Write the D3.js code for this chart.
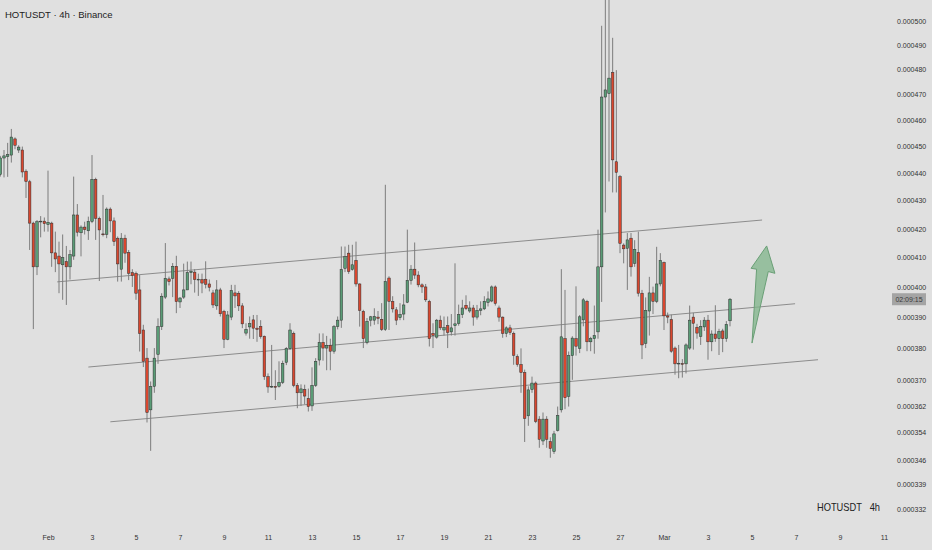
<!DOCTYPE html>
<html>
<head>
<meta charset="utf-8">
<script src="https://cdn.jsdelivr.net/npm/d3@7/dist/d3.min.js"></script>
<style>
  body{margin:0;background:#e0e0e0;}
  text{font-family:"Liberation Sans",Arial,sans-serif;}
</style>
</head>
<body>
<svg id="chart" width="932" height="550"></svg>
<script>
// HOTUSDT 4h candles, prices in units of 0.000001 USDT
var firstCandle = Date.UTC(2025,0,29,20), step = 4*3600*1000;

var open = [439.6,445.7,446.2,446.8,452.9,448.7,448.7,440.8,436.9,422.0,406.8,422.5,422.7,421.5,422.0,411.6,410.5,407.5,408.6,406.8,
  410.5,424.9,418.6,420.6,419.3,422.6,437.8,423.7,418.2,418.0,427.0,422.8,416.7,406.0,416.7,411.7,404.8,404.6,399.0,385.8,
  376.8,360.8,368.0,378.0,386.9,396.6,402.7,402.9,407.0,395.0,396.6,399.0,404.8,405.0,402.4,402.5,402.6,401.0,398.0,393.7,
  399.0,391.9,382.8,390.0,398.0,397.9,393.7,384.8,386.8,389.1,386.4,387.0,383.8,371.0,367.8,368.0,368.0,369.2,375.5,379.8,
  384.7,368.3,366.0,367.0,364.3,362.0,368.3,376.2,381.8,380.0,380.9,379.0,386.9,389.0,406.3,411.5,405.9,409.0,401.0,391.9,
  381.8,389.0,389.0,390.0,389.3,386.0,403.0,395.2,392.4,389.8,391.0,394.9,402.2,406.0,404.0,400.7,400.0,395.2,384.7,383.5,
  389.0,385.8,387.2,385.2,387.2,387.9,390.8,393.9,392.0,393.0,390.0,392.2,392.7,394.8,395.3,400.0,393.0,390.0,384.7,386.5,
  384.7,377.3,374.8,372.3,359.0,367.0,369.0,358.0,351.5,358.0,351.3,348.4,354.6,360.8,383.0,364.9,377.6,383.0,379.9,389.1,
  395.2,382.0,383.0,385.2,406.8,469.1,470.5,478.9,444.3,438.8,414.3,413.2,416.7,408.0,411.7,397.9,381.5,392.0,398.0,395.2,
  401.0,408.3,390.4,389.2,380.0,375.0,375.1,375.0,380.0,390.0,386.7,383.7,386.8,389.0,382.0,384.5,383.0,385.5,383.0,388.8];
var high = [446.5,448.7,451.4,456.7,453.5,450.5,450.0,441.5,437.6,422.5,423.1,424.5,424.0,441.0,422.5,419.0,415.5,418.0,414.0,412.6,
  438.8,428.8,421.2,422.5,424.3,446.8,438.4,424.3,432.1,427.6,427.6,424.0,417.3,418.5,417.9,412.6,406.0,405.2,404.0,387.5,
  380.0,369.5,380.0,389.6,397.9,415.0,403.5,408.1,410.6,396.6,407.9,408.6,408.6,406.0,404.5,404.5,408.7,402.5,399.0,402.3,
  399.7,392.4,392.0,400.7,400.7,398.6,394.6,388.0,390.2,390.7,390.7,389.0,384.0,372.0,381.0,373.0,375.8,376.0,380.3,388.0,
  385.3,369.0,368.6,368.5,367.3,373.9,376.8,384.7,384.7,383.9,383.0,387.4,390.2,413.8,413.8,414.4,414.4,415.5,401.2,392.4,
  389.7,390.4,392.9,392.0,394.6,435.8,403.6,396.9,393.3,394.6,397.6,419.7,407.4,415.2,405.3,401.2,401.0,395.7,388.0,389.4,
  390.5,390.2,390.2,391.0,408.0,394.1,395.7,397.2,395.2,394.0,394.0,395.2,396.9,398.5,400.5,400.5,393.8,390.2,387.0,387.5,
  385.3,378.0,379.9,373.2,368.0,371.0,369.5,358.9,360.0,358.9,352.6,354.5,361.8,406.0,399.0,378.9,383.8,400.2,390.7,396.3,
  395.7,383.6,393.8,419.7,498.0,512.0,515.0,493.0,479.8,439.4,414.9,418.5,418.5,416.0,419.0,399.0,396.5,403.4,400.1,413.7,
  411.5,408.6,391.5,390.8,380.5,381.0,376.5,381.5,393.8,391.4,387.8,389.0,390.0,390.7,385.7,393.9,386.2,386.2,388.7,396.3];
var low = [438.8,438.5,438.7,444.0,449.0,447.6,438.5,431.0,412.6,386.1,404.0,417.0,419.0,419.0,406.8,405.0,397.9,395.7,394.0,402.5,
  409.2,417.3,410.4,418.0,416.1,422.0,416.1,402.0,417.3,416.7,418.8,414.0,401.8,401.8,408.2,402.3,400.0,395.7,378.9,374.0,
  357.0,348.6,366.0,375.0,385.8,396.0,400.5,396.6,391.3,393.0,396.0,399.0,400.9,398.1,397.0,397.9,399.5,398.5,393.0,392.4,
  390.2,380.0,382.5,389.0,393.0,392.0,386.4,384.0,383.0,382.9,382.0,383.0,370.0,366.0,367.5,363.8,367.6,368.7,374.6,379.4,
  367.7,361.3,362.0,362.5,360.3,360.5,367.8,374.5,376.0,373.0,373.0,378.2,386.0,386.5,405.0,404.4,405.5,400.1,386.9,380.0,
  381.2,387.0,387.5,387.7,385.5,385.5,385.8,391.5,387.4,389.0,389.0,394.6,400.8,402.7,399.9,398.0,395.0,380.5,380.0,383.0,
  385.8,384.0,380.0,384.0,384.0,387.2,389.7,392.3,391.4,387.2,389.2,390.6,392.3,393.5,394.9,393.8,388.5,383.3,383.5,384.2,
  374.7,374.1,366.0,351.2,356.0,366.0,356.8,349.5,350.3,349.5,346.6,347.7,354.3,360.0,361.0,361.8,370.0,377.6,378.4,387.0,
  379.0,379.0,378.2,383.0,395.0,425.8,437.0,433.0,433.0,411.5,408.0,399.0,403.5,406.8,396.8,376.5,380.0,384.0,391.0,394.6,
  400.2,385.8,388.0,378.5,371.6,370.5,370.7,372.0,379.4,379.5,383.0,381.0,385.5,376.3,379.0,382.0,377.8,378.7,382.0,387.0];
var close = [445.7,446.5,447.0,453.6,450.5,449.8,440.5,437.0,422.0,406.8,422.5,422.7,421.8,422.3,411.6,409.5,407.8,410.0,406.8,411.0,
  424.9,418.8,420.6,419.7,422.6,437.8,423.7,419.6,417.9,427.0,422.8,415.5,407.8,416.7,411.5,404.6,403.8,397.9,384.7,375.8,
  360.0,367.9,376.8,386.9,396.9,402.9,401.8,407.0,395.1,396.3,399.0,404.8,405.3,402.5,402.6,401.3,400.9,399.9,394.0,399.0,
  391.1,382.8,390.7,398.8,397.0,393.7,387.8,386.0,387.9,386.4,386.0,383.7,371.0,367.8,368.0,367.7,369.2,375.1,379.8,385.8,
  368.3,366.0,367.2,365.0,361.8,368.3,375.8,381.8,380.0,380.9,379.0,386.9,389.0,405.9,410.3,405.2,407.5,401.0,392.2,383.0,
  388.6,390.1,390.2,389.6,386.0,401.8,395.2,392.7,389.0,390.9,394.0,402.2,406.0,404.0,400.7,400.0,395.7,383.0,384.1,389.0,
  386.5,386.6,385.0,386.5,387.8,390.8,393.0,392.8,393.0,390.0,392.2,392.7,395.2,396.0,400.0,394.5,390.0,384.7,386.5,385.0,
  377.7,374.8,372.3,358.2,366.9,369.0,357.3,352.0,358.0,352.0,349.3,353.6,359.1,383.6,364.5,377.6,383.2,380.6,390.1,395.7,
  382.0,383.0,384.0,406.8,469.1,471.9,476.6,445.0,440.4,414.9,413.0,416.1,406.8,412.8,397.9,381.0,392.2,398.0,395.2,401.0,
  409.0,390.4,390.0,379.0,375.0,375.2,375.0,381.0,389.0,388.0,384.8,387.0,389.0,382.0,384.5,383.0,385.3,383.0,387.6,395.9];

var yTicks = [332,339,346,354,362,370,380,390,400,410,420,430,440,450,460,470,480,490,500];
var xTickDates = ["2025-02-01","2025-02-03","2025-02-05","2025-02-07","2025-02-09","2025-02-11","2025-02-13","2025-02-15",
  "2025-02-17","2025-02-19","2025-02-21","2025-02-23","2025-02-25","2025-02-27","2025-03-01","2025-03-03","2025-03-05",
  "2025-03-07","2025-03-09","2025-03-11"];
var xTickLabels = ["Feb","3","5","7","9","11","13","15","17","19","21","23","25","27","Mar","3","5","7","9","11"];

// channel lines drawn on the chart: [time, price] endpoints
var channelTop = [["2025-02-01T10:00Z",401.7],["2025-03-05T11:00Z",423.1]];
var channelMid = [["2025-02-02T20:00Z",374.0],["2025-03-06T23:00Z",394.4]];
var channelLow = [["2025-02-03T20:00Z",357.2],["2025-03-08T00:00Z",376.3]];
// up arrow outline: [time, price]
var arrowPts = [["2025-03-05T16:00Z",414.0],["2025-03-06T01:00Z",404.6],["2025-03-05T17:45Z",405.2],
  ["2025-03-05T00:00Z",381.6],["2025-03-05T05:00Z",406.0],["2025-03-04T23:00Z",406.3]];

var W = 932, H = 550;
var svg = d3.select("#chart");
svg.append("rect").attr("width",W).attr("height",H).attr("fill","#e0e0e0");

var x = d3.scaleUtc()
    .domain([new Date(Date.UTC(2025,1,1)), new Date(Date.UTC(2025,2,1))])
    .range([48,664]);
var y = d3.scaleLog().domain([332,500]).range([509,21]);

svg.append("clipPath").attr("id","plot")
  .append("rect").attr("x",0).attr("y",0).attr("width",888).attr("height",525);
var plot = svg.append("g").attr("clip-path","url(#plot)");

var tOf = function(i){ return new Date(firstCandle + i*step); };
var pt = function(p){ return [x(new Date(p[0])), y(p[1])]; };

// channel lines
[channelTop, channelMid, channelLow].forEach(function(seg){
  var a = pt(seg[0]), b = pt(seg[1]);
  plot.append("line")
    .attr("x1",a[0]).attr("y1",a[1]).attr("x2",b[0]).attr("y2",b[1])
    .attr("stroke","#8c8c8c").attr("stroke-width",1);
});

// candles
var idx = d3.range(open.length);
var cg = plot.selectAll("g.candle").data(idx).enter().append("g").attr("class","candle");
cg.append("line")
  .attr("x1",function(i){return x(tOf(i));})
  .attr("x2",function(i){return x(tOf(i));})
  .attr("y1",function(i){return y(high[i]);})
  .attr("y2",function(i){return y(low[i]);})
  .attr("stroke","#7c7c7c").attr("stroke-width",1);
cg.append("rect")
  .attr("x",function(i){return x(tOf(i))-1.25;})
  .attr("width",2.5)
  .attr("y",function(i){return y(Math.max(open[i],close[i]));})
  .attr("height",function(i){return Math.max(0.8, Math.abs(y(open[i])-y(close[i])));})
  .attr("fill",function(i){return close[i]>=open[i] ? "#5a9c76" : "#d9472f";})
  .attr("stroke","#2e2e2e").attr("stroke-width",0.5);

// arrow
plot.append("path")
  .attr("d", d3.line()(arrowPts.map(pt)) + "Z")
  .attr("fill","#7fb48a").attr("fill-opacity",0.75)
  .attr("stroke","#6a9f76").attr("stroke-width",1);

// price axis
var yAxis = d3.axisRight(y).tickValues(yTicks).tickSize(0).tickPadding(0)
  .tickFormat(function(d){ return (d/1e6).toFixed(6); });
var ya = svg.append("g").attr("transform","translate(897,0)").call(yAxis);
ya.select(".domain").remove();
ya.selectAll("text").attr("font-size",7).attr("fill","#333")
  .style("font-family","'Liberation Sans',Arial,sans-serif");

// time axis
var xAxis = d3.axisBottom(x).tickValues(xTickDates.map(function(d){return new Date(d+"T00:00Z");}))
  .tickSize(0).tickPadding(0)
  .tickFormat(function(d,i){ return xTickLabels[i]; });
var xa = svg.append("g").attr("transform","translate(0,535)").call(xAxis);
xa.select(".domain").remove();
xa.selectAll("text").attr("font-size",7).attr("fill","#333")
  .style("font-family","'Liberation Sans',Arial,sans-serif");

// countdown tag at last close
var last = close[close.length-1];
svg.append("rect").attr("x",892).attr("y",y(last)-6).attr("width",34).attr("height",12).attr("fill","#a4a4a4");
svg.append("text").attr("x",909).attr("y",y(last)+2.5).attr("text-anchor","middle")
  .attr("font-size",7).attr("fill","#3a3a3a").text("02:09:15");

// titles
svg.append("text").attr("x",5).attr("y",18).attr("font-size",9.5).attr("fill","#222")
  .text("HOTUSDT \u00b7 4h \u00b7 Binance");
svg.append("text").attr("x",817).attr("y",511).attr("font-size",11).attr("fill","#222")
  .attr("textLength",63).attr("lengthAdjust","spacingAndGlyphs")
  .text("HOTUSDT\u00a0\u00a0\u00a04h");
</script>
</body>
</html>
